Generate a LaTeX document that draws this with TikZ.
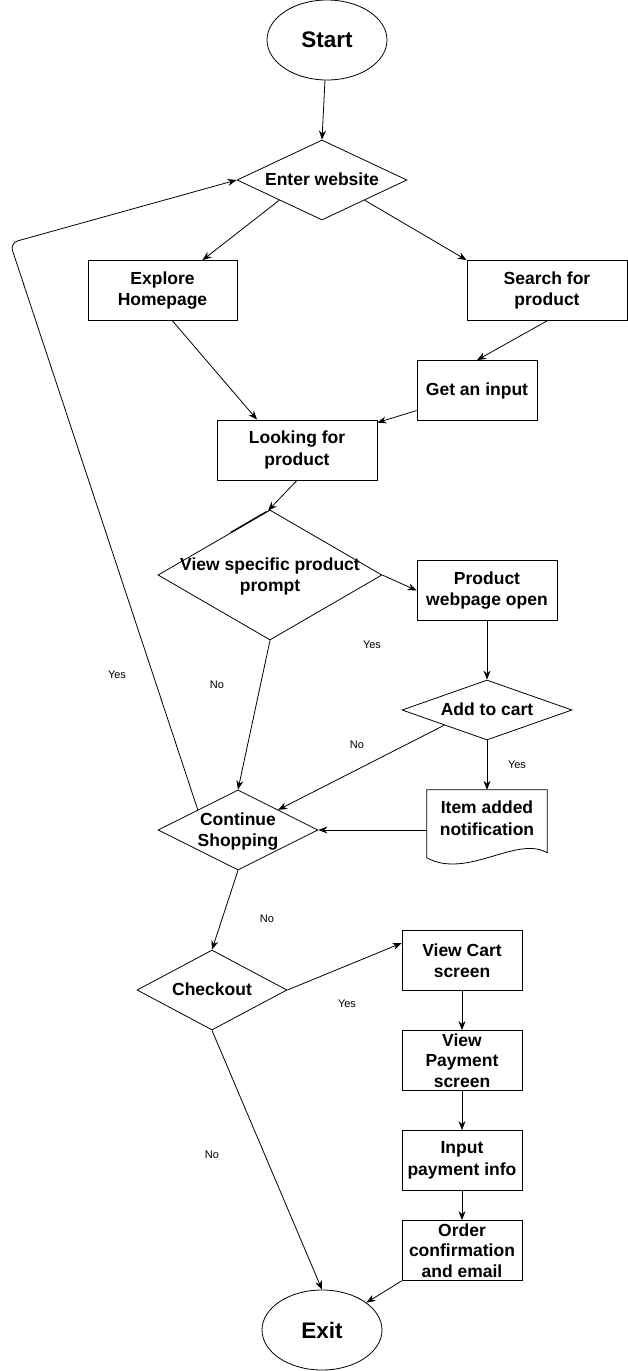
\documentclass[tikz,border=0pt]{standalone}
\usepackage{fontspec}
\setmainfont{Liberation Sans}
\usetikzlibrary{shapes.geometric,arrows.meta,calc}
\newcommand{\zb}[1]{\makebox[0pt][c]{\raisebox{-0.33em}[0pt][0pt]{\begin{tabular}{@{}c@{}}#1\end{tabular}}}}
\begin{document}
\begin{tikzpicture}[x=1pt,y=-1pt,
  every node/.style={font=\bfseries\fontsize{17.5}{21.5}\selectfont, align=center, inner sep=0pt},
  box/.style={draw, line width=0.8pt, minimum height=60pt},
  dia/.style={diamond, draw, line width=0.8pt, inner sep=0pt},
  oval/.style={ellipse, draw, line width=0.8pt, minimum width=120pt, minimum height=80pt, font=\bfseries\fontsize{22.5}{26}\selectfont},
  lbl/.style={font=\fontsize{11}{13}\selectfont},
  arr/.style={draw, line width=0.8pt, -{Stealth[length=9pt,width=7pt]}}
]
\useasboundingbox (0,0) rectangle (628,1371);
% nodes
\node[oval] (start) at (327,40) {Start};
\node[dia, minimum width=170pt, minimum height=80pt] (enter) at (322,180) {\zb{Enter website}};
\node[box, minimum width=149pt] (explore) at (162.5,290.5) {Explore\\Homepage};
\node[box, minimum width=160pt] (search) at (547,290.5) {Search for\\product};
\node[box, minimum width=120pt] (getin) at (477,390.5) {Get an input};
\node[box, minimum width=160pt] (looking) at (297,450) {Looking for\\product};
\node[dia, minimum width=224pt, minimum height=130pt] (vsp) at (270,575) {\zb{View specific product\\prompt}};
\node[box, minimum width=140pt] (page) at (487,590.5) {Product\\webpage open};
\node[dia, minimum width=170pt, minimum height=60pt] (cart) at (487,710) {\zb{Add to cart}};
\node[minimum width=120pt, minimum height=56pt] (item) at (487,818) {Item added\\notification};
\draw[line width=0.8pt] (item.north west) -- (item.north east) -- ($(item.north east)+(0,63)$)
  .. controls ($(item.north east)+(-30,45)$) and ($(item.north west)+(40,90)$) .. ($(item.north west)+(0,68)$) -- cycle;
\node[dia, minimum width=160pt, minimum height=80pt] (cont) at (238,830) {\zb{Continue\\Shopping}};
\node[dia, minimum width=150pt, minimum height=80pt] (check) at (212,990) {\zb{Checkout}};
\node[box, minimum width=120pt] (vcart) at (462,960.5) {View Cart\\screen};
\node[box, minimum width=120pt, font=\bfseries\fontsize{17.5}{20.5}\selectfont] (vpay) at (462,1060.5) {View\\Payment\\screen};
\node[box, minimum width=120pt] (inpay) at (462,1160.5) {Input\\payment info};
\node[box, minimum width=120pt, font=\bfseries\fontsize{17.5}{20.5}\selectfont] (order) at (462,1250.5) {Order\\confirmation\\and email};
\node[oval] (exit) at (322,1330) {Exit};
% labels
\node[lbl] (l1) at (372,645) {Yes};
\node[lbl] (l2) at (217,685) {No};
\node[lbl] (l3) at (117,675) {Yes};
\node[lbl] (l4) at (357,745) {No};
\node[lbl] (l5) at (517,765) {Yes};
\node[lbl] (l6) at (267,919) {No};
\node[lbl] (l7) at (347,1004) {Yes};
\node[lbl] (l8) at (212,1155) {No};
% connectors
\draw[arr] (start) -- (enter.north);
\draw[arr] ($(enter.west)!0.5!(enter.south)$) -- ($(explore.north)+(40,0)$);
\draw[arr] ($(enter.east)!0.5!(enter.south)$) -- ($(search.north west)$);
\draw[arr] ($(explore.south)+(10,0)$) -- ($(looking.north)+(-40,0)$);
\draw[arr] (search.south) -- (getin.north);
\draw[arr] ($(getin.west)+(0,20)$) -- ($(looking.north east)+(0,3)$);
\draw[arr] (looking.south) -- ($(vsp.north)+(-2,1)$);
\draw[line width=1.3pt] ($(vsp.north)!0.35!(vsp.west)$) -- ($(vsp.north)!0.03!(vsp.west)$);
\draw[arr] (vsp.east) -- (page.west);
\draw[arr] (page.south) -- (cart.north);
\draw[arr] (cart.south) -- (item.north);
\draw[arr] ($(cart.west)!0.5!(cart.south)$) -- ($(cont.north)!0.5!(cont.east)$);
\draw[arr] (item.west |- cont.east) -- (cont.east);
\draw[arr] (vsp.south) -- (cont.north);
\draw[arr, rounded corners=8pt] ($(cont.west)!0.5!(cont.north)$) -- (10,243) -- (enter.west);
\draw[arr] (cont.south) -- (check.north);
\draw[arr] (check.east) -- ($(vcart.north west)+(0,13)$);
\draw[arr] (vcart.south) -- (vpay.north);
\draw[arr] (vpay.south) -- (inpay.north);
\draw[arr] (inpay.south) -- (order.north);
\draw[arr] (order.south west) -- (exit);
\draw[arr] (check.south) -- (exit.north);
\end{tikzpicture}
\end{document}
